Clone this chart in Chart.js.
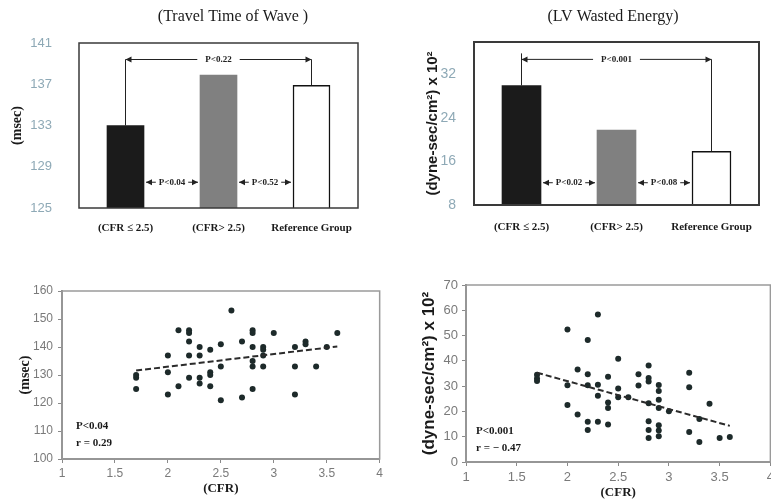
<!DOCTYPE html>
<html>
<head>
<meta charset="utf-8">
<script src="https://cdn.jsdelivr.net/npm/chart.js@4.4.1/dist/chart.umd.min.js"></script>
<style>
  html, body { margin: 0; padding: 0; background: #fff; overflow: hidden; width: 771px; height: 500px; }
  .panel { position: absolute; }
</style>
</head>
<body>
<div class="panel" style="left:0;top:0;width:386px;height:240px"><canvas id="travelBar"></canvas></div>
<div class="panel" style="left:386px;top:0;width:385px;height:240px"><canvas id="energyBar"></canvas></div>
<div class="panel" style="left:0;top:240px;width:386px;height:260px"><canvas id="travelScatter"></canvas></div>
<div class="panel" style="left:386px;top:240px;width:392px;height:260px"><canvas id="energyScatter"></canvas></div>
<script>
// group means (bar charts)
const groups = ['(CFR ≤ 2.5)', '(CFR> 2.5)', 'Reference Group'];
const travelMeans = [133, 137.9, 136.9];
const travelTicks = [125, 129, 133, 137, 141];
const energyMeans = [30, 21.8, 17.9];
const energyTicks = [8, 16, 24, 32];
const barColors = ['#1b1b1b', '#808080', '#ffffff'];

// P values: [from group, to group, level, text]
const travelBracket = [0, 2, 139.4, 'P<0.22'];
const travelPairs = [[0, 1, 127.5, 'P<0.04'], [1, 2, 127.5, 'P<0.52']];
const energyBracket = [0, 2, 34.8, 'P<0.001'];
const energyPairs = [[0, 1, 12.1, 'P<0.02'], [1, 2, 12.1, 'P<0.08']];

// scatter: travel time of wave vs CFR
const travelCfr = [1.7, 1.7, 1.7, 2, 2, 2, 2.1, 2.1, 2.2, 2.2, 2.2, 2.2, 2.2,
  2.3, 2.3, 2.3, 2.3, 2.4, 2.4, 2.4, 2.4, 2.5, 2.5, 2.5, 2.6, 2.7, 2.7,
  2.8, 2.8, 2.8, 2.8, 2.8, 2.8, 2.9, 2.9, 2.9, 2.9, 3.0, 3.2, 3.2, 3.2,
  3.3, 3.3, 3.4, 3.5, 3.6];
const travelMsec = [129, 130, 125, 137, 131, 123, 146, 126, 146, 145, 142, 137, 129,
  140, 137, 129, 127, 139, 131, 130, 126, 141, 133, 121, 153, 142, 122,
  146, 145, 140, 135, 133, 125, 140, 139, 137, 133, 145, 140, 133, 123,
  142, 141, 133, 140, 145];
const travelTrendCfr = [1.7, 3.6];
const travelTrendMsec = [131.6, 140.2];
const travelStats = ['P<0.04', 'r = 0.29'];

// scatter: LV wasted energy vs CFR
const energyCfr = [1.7, 1.7, 1.7, 2, 2, 2, 2.1, 2.1, 2.2, 2.2, 2.2, 2.2, 2.2,
  2.3, 2.3, 2.3, 2.3, 2.4, 2.4, 2.4, 2.4, 2.5, 2.5, 2.5, 2.6, 2.7, 2.7,
  2.8, 2.8, 2.8, 2.8, 2.8, 2.8, 2.8, 2.9, 2.9, 2.9, 2.9, 2.9, 2.9, 2.9,
  3.0, 3.2, 3.2, 3.2, 3.3, 3.3, 3.4, 3.5, 3.6];
const energyWaste = [34.5, 33, 32, 52.4, 30.4, 22.5, 36.6, 18.8, 48.2, 34.7, 30.4, 15.9, 12.7,
  58.3, 30.6, 26.2, 15.9, 33.7, 23.5, 21.4, 14.8, 40.8, 29.1, 25.6, 25.6, 34.7, 30.3,
  38.2, 33.2, 31.8, 23.2, 16.1, 12.7, 9.5, 30.5, 28.1, 24.6, 21.4, 14.5, 12.5, 10.2,
  20.1, 35.3, 29.6, 11.9, 17.0, 7.9, 23.0, 9.5, 9.9];
const energyTrendCfr = [1.7, 3.6];
const energyTrendWaste = [35.3, 14.3];
const energyStats = ['P<0.001', 'r = \u2212 0.47'];

const SERIF = '"Liberation Serif", "Times New Roman", serif';
const SANS = '"Liberation Sans", Arial, sans-serif';

// box round the plot area
const frame = {
  id: 'frame',
  afterDatasetsDraw(chart, args, o) {
    const a = chart.chartArea, ctx = chart.ctx;
    ctx.save();
    ctx.strokeStyle = o.color;
    ctx.lineWidth = o.width;
    ctx.strokeRect(a.left, a.top, a.right - a.left, a.bottom - a.top);
    ctx.restore();
  }
};

// free text: panel titles and stats
const notes = {
  id: 'notes',
  afterDraw(chart, args, o) {
    const ctx = chart.ctx, a = chart.chartArea;
    ctx.save();
    ctx.fillStyle = '#1a1a1a';
    ctx.textBaseline = 'middle';
    (o.items || []).forEach(n => {
      ctx.font = n.font;
      ctx.textAlign = n.align || 'left';
      const x = n.area ? a.left + n.x : n.x;
      const y = n.area ? a.bottom + n.y : n.y;
      ctx.fillText(n.text, x, y);
    });
    ctx.restore();
  }
};

function arrowHead(ctx, x, y, dir) {
  ctx.beginPath();
  ctx.moveTo(x, y);
  ctx.lineTo(x - dir * 6, y - 3);
  ctx.lineTo(x - dir * 6, y + 3);
  ctx.closePath();
  ctx.fill();
}

function gapLine(ctx, xa, xb, y, text, pad) {
  const mid = (xa + xb) / 2, half = ctx.measureText(text).width / 2 + pad;
  ctx.beginPath();
  ctx.moveTo(xa, y); ctx.lineTo(mid - half, y);
  ctx.moveTo(mid + half, y); ctx.lineTo(xb, y);
  ctx.stroke();
  ctx.fillText(text, mid, y);
  arrowHead(ctx, xa, y, -1);
  arrowHead(ctx, xb, y, 1);
}

// P value arrows between bars
const pArrows = {
  id: 'pArrows',
  afterDatasetsDraw(chart, args, o) {
    const ctx = chart.ctx, y = chart.scales.y, bars = chart.getDatasetMeta(0).data;
    ctx.save();
    ctx.strokeStyle = '#222';
    ctx.fillStyle = '#222';
    ctx.lineWidth = 1;
    ctx.font = 'bold 9px ' + SERIF;
    ctx.textAlign = 'center';
    ctx.textBaseline = 'middle';
    const [from, to, level, text] = o.bracket;
    const ly = y.getPixelForValue(level);
    const x1 = bars[from].x, x2 = bars[to].x;
    ctx.beginPath();
    ctx.moveTo(x1, bars[from].y); ctx.lineTo(x1, ly - o.rise);
    ctx.moveTo(x2, bars[to].y); ctx.lineTo(x2, ly);
    ctx.stroke();
    gapLine(ctx, x1, x2, ly, text, 8);
    o.pairs.forEach(([a, b, lv, t]) => {
      const py = y.getPixelForValue(lv);
      gapLine(ctx, bars[a].x + bars[a].width / 2 + 2, bars[b].x - bars[b].width / 2 - 2, py, t, 3);
    });
    ctx.restore();
  }
};

function barChart(id, means, ticks, s) {
  return new Chart(document.getElementById(id), {
    type: 'bar',
    data: {
      labels: groups,
      datasets: [{
        data: means,
        backgroundColor: barColors,
        borderColor: ['#1b1b1b', '#808080', '#111'],
        borderWidth: [0, 0, 1.5],
        barThickness: s.barWidth
      }]
    },
    options: {
      responsive: true,
      maintainAspectRatio: false,
      animation: false,
      layout: { padding: { top: s.top, right: s.right, left: 0, bottom: 0 } },
      scales: {
        x: {
          grid: { display: false },
          border: { display: false },
          ticks: { color: '#1a1a1a', padding: s.xPad, font: { family: SERIF, size: 11, weight: 'bold' } },
          afterFit: sc => { sc.height = s.xHeight; }
        },
        y: {
          min: s.min,
          max: s.max,
          grid: { display: false },
          border: { display: false },
          afterBuildTicks: sc => { sc.ticks = ticks.map(v => ({ value: v })); },
          ticks: { color: '#8ea9b6', padding: s.yPad, font: { family: SANS, size: s.tickSize } },
          title: {
            display: true,
            text: s.yTitle,
            color: '#1a1a1a',
            padding: { top: s.titlePad, bottom: 0 },
            font: s.yFont
          },
          afterFit: sc => { sc.width = s.yWidth; }
        }
      },
      plugins: {
        legend: { display: false },
        tooltip: { enabled: false },
        frame: { color: '#3a3a3a', width: s.frameWidth },
        pArrows: { bracket: s.bracket, pairs: s.pairs, rise: s.rise },
        notes: { items: [{ text: s.title, x: s.titleX, y: 17, align: 'center', font: '16px ' + SERIF }] }
      }
    },
    plugins: [frame, pArrows, notes]
  });
}

barChart('travelBar', travelMeans, travelTicks, {
  min: 125, max: 141, top: 43, right: 28, xHeight: 32, xPad: 6, yWidth: 79, yPad: 19,
  tickSize: 13, titlePad: 9, yTitle: '(msec)', yFont: { family: SERIF, size: 14, weight: 'bold' },
  barWidth: 37, frameWidth: 1.5, bracket: travelBracket, pairs: travelPairs, rise: 0,
  title: '(Travel Time of Wave )', titleX: 233
});

barChart('energyBar', energyMeans, energyTicks, {
  min: 8, max: 38, top: 42, right: 12, xHeight: 35, xPad: 8, yWidth: 88, yPad: 10,
  tickSize: 14, titlePad: 38, yTitle: '(dyne-sec/cm\u00b2) x 10\u00b2', yFont: { family: SANS, size: 15, weight: 'bold' },
  barWidth: 39, frameWidth: 2, bracket: energyBracket, pairs: energyPairs, rise: 6,
  title: '(LV Wasted Energy)', titleX: 227
});

function scatterChart(id, xs, ys, tx, ty, stats, s) {
  return new Chart(document.getElementById(id), {
    type: 'scatter',
    data: {
      datasets: [{
        data: tx.map((x, i) => ({ x: x, y: ty[i] })),
        showLine: true,
        borderColor: '#2b2b2b',
        borderWidth: 2,
        borderDash: [6, 3],
        pointRadius: 0
      }, {
        data: xs.map((x, i) => ({ x: x, y: ys[i] })),
        backgroundColor: '#1d2a2a',
        borderWidth: 0,
        pointRadius: 3
      }]
    },
    options: {
      responsive: true,
      maintainAspectRatio: false,
      animation: false,
      layout: { padding: { top: s.top, right: s.right, left: 0, bottom: 0 } },
      scales: {
        x: {
          min: 1,
          max: 4,
          ticks: {
            stepSize: 0.5, color: '#7a7a7a', padding: s.xPad,
            font: { family: SANS, size: s.tickSize },
            callback: v => String(v)
          },
          grid: { drawOnChartArea: false, tickLength: 4, color: '#8a8a8a' },
          border: { color: '#8a8a8a', width: 2 },
          title: {
            display: true,
            text: '(CFR)',
            color: '#1a1a1a',
            padding: { top: 0, bottom: s.xTitlePad },
            font: { family: SERIF, size: 13, weight: 'bold' }
          },
          afterFit: sc => { sc.height = s.xHeight; }
        },
        y: {
          min: s.min,
          max: s.max,
          ticks: { stepSize: 10, color: '#7a7a7a', padding: s.yPad, font: { family: SANS, size: s.tickSize } },
          grid: { drawOnChartArea: false, tickLength: 4, color: '#8a8a8a' },
          border: { color: '#8a8a8a', width: 2 },
          title: {
            display: true,
            text: s.yTitle,
            color: '#1a1a1a',
            padding: { top: s.titlePad, bottom: 0 },
            font: s.yFont
          },
          afterFit: sc => { sc.width = s.yWidth; }
        }
      },
      plugins: {
        legend: { display: false },
        tooltip: { enabled: false },
        frame: { color: '#9a9a9a', width: 1.5 },
        notes: {
          items: stats.map((t, i) => ({
            text: t, area: true, x: s.statX, y: s.statY + i * 17, font: 'bold 11px ' + SERIF
          }))
        }
      }
    },
    plugins: [frame, notes]
  });
}

scatterChart('travelScatter', travelCfr, travelMsec, travelTrendCfr, travelTrendMsec, travelStats, {
  min: 100, max: 160, top: 51, right: 6, xHeight: 41, xPad: 3, xTitlePad: 4, yWidth: 62, yPad: 5,
  tickSize: 12, titlePad: 17, yTitle: '(msec)', yFont: { family: SERIF, size: 14, weight: 'bold' },
  statX: 14, statY: -33
});

scatterChart('energyScatter', energyCfr, energyWaste, energyTrendCfr, energyTrendWaste, energyStats, {
  min: 0, max: 70, top: 45, right: 5, xHeight: 38, xPad: 4, xTitlePad: 0, yWidth: 80, yPad: 4,
  tickSize: 13, titlePad: 33, yTitle: '(dyne-sec/cm\u00b2) x 10\u00b2', yFont: { family: SANS, size: 17, weight: 'bold' },
  statX: 10, statY: -31
});
</script>
</body>
</html>
